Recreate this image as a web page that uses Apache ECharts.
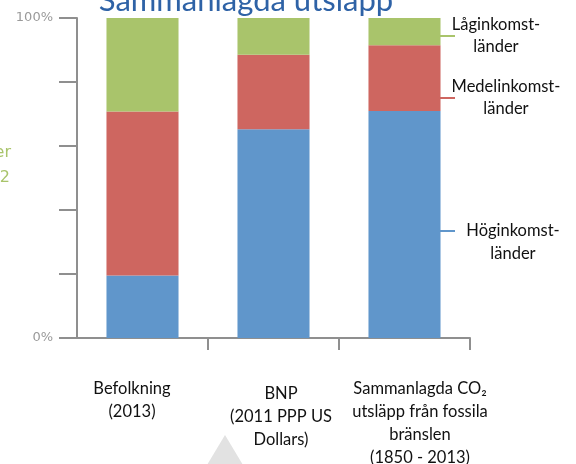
<!DOCTYPE html>
<html>
<head>
<meta charset="utf-8">
<script src="https://cdn.jsdelivr.net/npm/echarts@6/dist/echarts.min.js"></script>
<style>
  html, body { margin: 0; padding: 0; background: #fff; }
  #chart { width: 576px; height: 464px; }
</style>
</head>
<body>
<div id="chart"></div>
<script>
// data
const categories = ['Befolkning', 'BNP', 'Sammanlagda CO2'];
const categoryLabels = [
  'Befolkning\n(2013)',
  'BNP\n(2011 PPP US\nDollars)',
  'Sammanlagda CO₂\nutsläpp från fossila\nbränslen\n(1850 - 2013)'
];
const hogData = [19.5, 65.2, 70.9];
const medelData = [51.3, 23.3, 20.6];
const lagData = [29.2, 11.5, 8.5];
const seriesNames = ['Höginkomst-\nländer', 'Medelinkomst-\nländer', 'Låginkomst-\nländer'];
const yTicks = [0, 20, 40, 60, 80, 100];

// colours
const blue = '#6096cb';
const red = '#ce6660';
const green = '#a9c46b';
const axisColor = '#8f8f8f';

const catFont = 'Lato, "Open Sans", sans-serif';

const chart = echarts.init(document.getElementById('chart'));

const option = {
  animation: false,
  grid: { left: 77, right: 106, top: 18, bottom: 126, containLabel: false },
  xAxis: {
    type: 'category',
    data: categories,
    axisLine: { lineStyle: { color: axisColor, width: 2 } },
    axisTick: {
      show: true,
      length: 12,
      // only the inner boundaries have ticks
      interval: idx => idx > 0 && idx < categories.length,
      lineStyle: { color: axisColor, width: 2 }
    },
    axisLabel: { show: false }
  },
  yAxis: {
    type: 'value',
    min: yTicks[0],
    max: yTicks[yTicks.length - 1],
    interval: 20,
    axisLine: { show: true, lineStyle: { color: axisColor, width: 2 } },
    axisTick: { show: true, length: 18, lineStyle: { color: axisColor, width: 2 } },
    splitLine: { show: false },
    axisLabel: {
      margin: 24,
      color: '#9a9a9a',
      fontSize: 13,
      fontFamily: '"DejaVu Sans", sans-serif',
      formatter: v => (v === 0 || v === 100 ? v + '%' : '')
    }
  },
  series: [
    { name: seriesNames[0], type: 'bar', stack: 'a', barWidth: '55%', data: hogData, itemStyle: { color: blue } },
    { name: seriesNames[1], type: 'bar', stack: 'a', data: medelData, itemStyle: { color: red } },
    { name: seriesNames[2], type: 'bar', stack: 'a', data: lagData, itemStyle: { color: green } }
  ],
  graphic: [
    // title, cut off at the top
    {
      type: 'text', x: 246, y: 16,
      style: { text: 'Sammanlagda utsläpp', align: 'center', verticalAlign: 'bottom', fontSize: 31, fontFamily: catFont, fill: '#2e62a6' }
    },
    // bits of green text cut at left edge
    { type: 'text', x: 11, y: 153, style: { text: 'er', align: 'right', verticalAlign: 'middle', fontSize: 16, fontFamily: '"DejaVu Sans", sans-serif', fill: green } },
    { type: 'text', x: 10, y: 178, style: { text: '2', align: 'right', verticalAlign: 'middle', fontSize: 16, fontFamily: '"DejaVu Sans", sans-serif', fill: green } },
    // grey triangle at bottom
    {
      type: 'polygon',
      shape: { points: [[225, 435], [207, 465], [243, 465]] },
      style: { fill: '#e2e2e2' }
    },
    // leader lines
    { type: 'line', shape: { x1: 437, y1: 36, x2: 455, y2: 36 }, style: { stroke: green, lineWidth: 2 } },
    { type: 'line', shape: { x1: 437, y1: 98, x2: 455, y2: 98 }, style: { stroke: red, lineWidth: 2 } },
    { type: 'line', shape: { x1: 437, y1: 231, x2: 455, y2: 231 }, style: { stroke: blue, lineWidth: 2 } },
    // series labels
    { type: 'text', x: 496, y: 36, style: { text: seriesNames[2], align: 'center', verticalAlign: 'middle', lineHeight: 22, fontSize: 16.5, fontFamily: catFont, fill: '#111' } },
    { type: 'text', x: 506, y: 98, style: { text: seriesNames[1], align: 'center', verticalAlign: 'middle', lineHeight: 22, fontSize: 16.5, fontFamily: catFont, fill: '#111' } },
    { type: 'text', x: 513, y: 242, style: { text: seriesNames[0], align: 'center', verticalAlign: 'middle', lineHeight: 23, fontSize: 16.5, fontFamily: catFont, fill: '#111' } },
    // category labels
    { type: 'text', x: 132, y: 377, style: { text: categoryLabels[0], align: 'center', verticalAlign: 'top', lineHeight: 23, fontSize: 16.5, fontFamily: catFont, fill: '#111' } },
    { type: 'text', x: 281, y: 382, style: { text: categoryLabels[1], align: 'center', verticalAlign: 'top', lineHeight: 23, fontSize: 16.5, fontFamily: catFont, fill: '#111' } },
    { type: 'text', x: 420, y: 377, style: { text: categoryLabels[2], align: 'center', verticalAlign: 'top', lineHeight: 23, fontSize: 16.5, fontFamily: catFont, fill: '#111' } }
  ]
};

chart.setOption(option);
</script>
</body>
</html>
